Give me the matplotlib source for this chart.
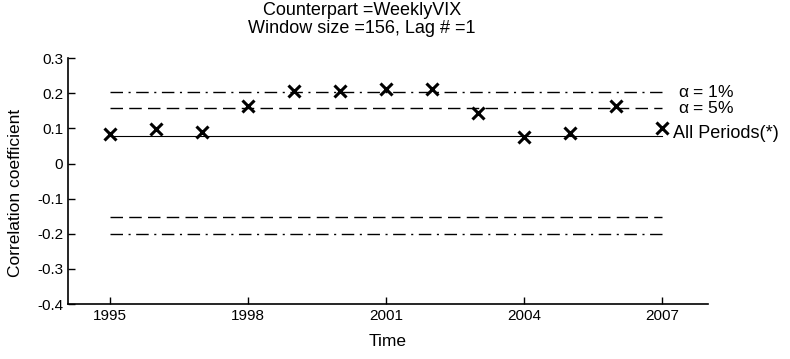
import matplotlib
matplotlib.use("Agg")
import matplotlib.pyplot as plt

plt.rcParams['font.family'] = ['Liberation Sans', 'DejaVu Sans']

years = [1995, 1996, 1997, 1998, 1999, 2000, 2001, 2002, 2003, 2004, 2005, 2006, 2007]
corr = [0.083, 0.099, 0.090, 0.165, 0.206, 0.206, 0.213, 0.213, 0.145, 0.075, 0.087, 0.163, 0.101]
upper_1pct = 0.203
upper_5pct = 0.157
lower_1pct = -0.200
lower_5pct = -0.151
all_periods = 0.079
xticks = [1995, 1998, 2001, 2004, 2007]
yticks = [-0.4, -0.3, -0.2, -0.1, 0, 0.1, 0.2, 0.3]

fig = plt.figure(figsize=(7.9, 3.59), dpi=100)
ax = fig.add_axes([0.086, 0.153, 0.810, 0.685])

x0, x1 = years[0], years[-1]
dashdot = (0, (9, 4, 1.5, 4))
dashed = (0, (9, 4.5))
ax.plot([x0, x1], [upper_1pct, upper_1pct], color='black', lw=1.0, ls=dashdot)
ax.plot([x0, x1], [lower_1pct, lower_1pct], color='black', lw=1.0, ls=dashdot)
ax.plot([x0, x1], [upper_5pct, upper_5pct], color='black', lw=1.0, ls=dashed)
ax.plot([x0, x1], [lower_5pct, lower_5pct], color='black', lw=1.0, ls=dashed)
ax.plot([x0, x1], [all_periods, all_periods], color='black', lw=0.8)
ax.plot(years, corr, ls='none', marker='x', color='black', ms=8, mew=2.2)

ax.text(x1 + 0.35, upper_1pct, r'$\mathregular{\alpha}$ = 1%', va='center', ha='left', fontsize=12.5)
ax.text(x1 + 0.35, upper_5pct, r'$\mathregular{\alpha}$ = 5%', va='center', ha='left', fontsize=12.5)
ax.text(x1 + 0.25, all_periods + 0.006, 'All Periods(*)', va='center', ha='left', fontsize=13)

ax.set_xlim(1994.08, 2008.0)
ax.set_ylim(-0.4, 0.3)
ax.set_xticks(xticks)
ax.set_xticklabels([str(t) for t in xticks])
ax.set_yticks(yticks)
ax.set_yticklabels(['-0.4', '-0.3', '-0.2', '-0.1', '0', '0.1', '0.2', '0.3'])
ax.tick_params(direction='in', length=5, width=1, labelsize=11, colors='black')
ax.spines['top'].set_visible(False)
ax.spines['right'].set_visible(False)
for s in ('left', 'bottom'):
    ax.spines[s].set_linewidth(1.2)

ax.set_xlabel('Time', fontsize=12.5, labelpad=8)
ax.set_ylabel('Correlation coefficient', fontsize=12.5)
ax.yaxis.set_label_coords(-0.07, 0.45)
fig.text(0.458, 0.995, 'Counterpart =WeeklyVIX\nWindow size =156, Lag # =1',
         ha='center', va='top', fontsize=13, linespacing=1.1)

fig.savefig('out.png', dpi=100)
